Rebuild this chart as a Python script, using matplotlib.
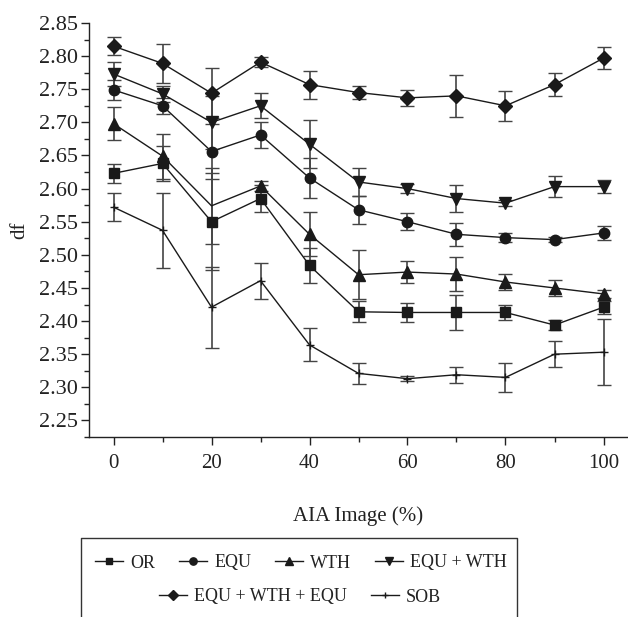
import matplotlib
matplotlib.use("Agg")
import matplotlib.pyplot as plt
from matplotlib.lines import Line2D
from matplotlib.ticker import MultipleLocator

plt.rcParams['font.family'] = ['Liberation Serif', 'DejaVu Serif']

x = [0, 10, 20, 30, 40, 50, 60, 70, 80, 90, 100]

or_vals = [2.623, 2.638, 2.550, 2.585, 2.484, 2.414, 2.413, 2.413, 2.413, 2.394, 2.421]
or_err = [0.014, 0.026, 0.073, 0.020, 0.027, 0.016, 0.014, 0.027, 0.011, 0.008, 0.010]

equ_vals = [2.749, 2.725, 2.656, 2.681, 2.616, 2.568, 2.550, 2.531, 2.526, 2.523, 2.533]
equ_err = [0.015, 0.012, 0.042, 0.019, 0.030, 0.021, 0.013, 0.017, 0.007, 0.004, 0.011]

wth_vals = [2.698, 2.649, 2.574, 2.604, 2.531, 2.470, 2.474, 2.471, 2.459, 2.450, 2.441]
wth_err = [0.025, 0.034, 0.057, 0.007, 0.033, 0.037, 0.016, 0.025, 0.012, 0.012, 0.006]

ew_vals = [2.773, 2.743, 2.700, 2.725, 2.667, 2.610, 2.600, 2.585, 2.578, 2.603, 2.603]
ew_err = [0.018, 0.012, 0.040, 0.019, 0.036, 0.021, 0.007, 0.020, 0.005, 0.016, 0.010]

ewe_vals = [2.815, 2.789, 2.744, 2.791, 2.757, 2.745, 2.737, 2.740, 2.725, 2.757, 2.797]
ewe_err = [0.014, 0.030, 0.038, 0.008, 0.021, 0.010, 0.012, 0.032, 0.023, 0.017, 0.017]

sob_vals = [2.572, 2.537, 2.421, 2.461, 2.364, 2.321, 2.313, 2.319, 2.315, 2.350, 2.353]
sob_err = [0.021, 0.057, 0.061, 0.027, 0.025, 0.016, 0.004, 0.012, 0.022, 0.020, 0.050]

labels = ['OR', 'EQU', 'WTH', 'EQU + WTH', 'EQU + WTH + EQU', 'SOB']
xticks = [0, 20, 40, 60, 80, 100]
yticks = [2.25, 2.30, 2.35, 2.40, 2.45, 2.50, 2.55, 2.60, 2.65, 2.70, 2.75, 2.80, 2.85]

fig = plt.figure(figsize=(6.28, 6.17), dpi=100)
ax = fig.add_axes([89/628, 1-437/617, 1-89/628, (437-23)/617])

line_c = '#1a1a1a'
err_c = '#444444'
text_c = '#222222'

series = [
    (or_vals, or_err, 's', 7.0, None),
    (equ_vals, equ_err, 'o', 7.5, None),
    (wth_vals, wth_err, '^', 8.0, [0, 1, 3, 4, 5, 6, 7, 8, 9, 10]),
    (ew_vals, ew_err, 'v', 8.0, None),
    (ewe_vals, ewe_err, 'D', 7.5, None),
    (sob_vals, sob_err, '+', 6.0, None),
]

handles = []
for (vals, err, mk, ms, mev) in series:
    kw = {}
    if mev is not None:
        kw['markevery'] = mev
    c = ax.errorbar(x, vals, yerr=err, fmt='-', marker=mk, ms=ms, color=line_c,
                    mfc=line_c, mec=line_c, mew=1.0, lw=1.0, ecolor=err_c,
                    elinewidth=1.2, capsize=4.8, capthick=1.3, **kw)
    handles.append(c.lines[0])

ax.set_xlim(-5, 105)
ax.set_ylim(2.225, 2.85)
ax.set_xticks(xticks)
ax.set_yticks(yticks)
ax.set_yticklabels([f"{v:.2f}" for v in yticks])
ax.xaxis.set_minor_locator(MultipleLocator(10))
ax.yaxis.set_minor_locator(MultipleLocator(0.025))
ax.tick_params(axis='both', which='major', direction='out', length=6, width=1.0,
               colors=text_c, labelsize=15)
ax.tick_params(axis='y', which='major', labelsize=16)
ax.tick_params(axis='both', which='minor', direction='out', length=3.5, width=1.0,
               colors=text_c)
ax.tick_params(axis='x', which='major', pad=6)
ax.tick_params(axis='y', which='major', pad=2)
for s in ['top', 'right']:
    ax.spines[s].set_visible(False)
for s in ['left', 'bottom']:
    ax.spines[s].set_color(text_c)
    ax.spines[s].set_linewidth(1.0)

ax.set_xlabel('AIA Image (%)', fontsize=15, color=text_c, labelpad=24)
ax.set_ylabel('df', fontsize=15, color=text_c, labelpad=7)

leg_kw = dict(frameon=False, fontsize=13, handlelength=1.55, handletextpad=0.4,
              columnspacing=1.3, markerscale=0.7, borderpad=0, borderaxespad=0,
              loc='center', bbox_transform=fig.transFigure, labelcolor=text_c)
leg1 = fig.legend(handles[:4], labels[:4], ncol=4,
                  bbox_to_anchor=(301/628, 1-563/617), **leg_kw)
leg2 = fig.legend(handles[4:], labels[4:], ncol=2,
                  bbox_to_anchor=(300/628, 1-597/617), **leg_kw)

bx0, bx1, by = 81/628, 517/628, 1-538/617
fig.add_artist(Line2D([bx0, bx0, bx1, bx1], [-0.02, by, by, -0.02],
                      transform=fig.transFigure, color='#333333', lw=1.0))

fig.savefig('out.png', dpi=100)
